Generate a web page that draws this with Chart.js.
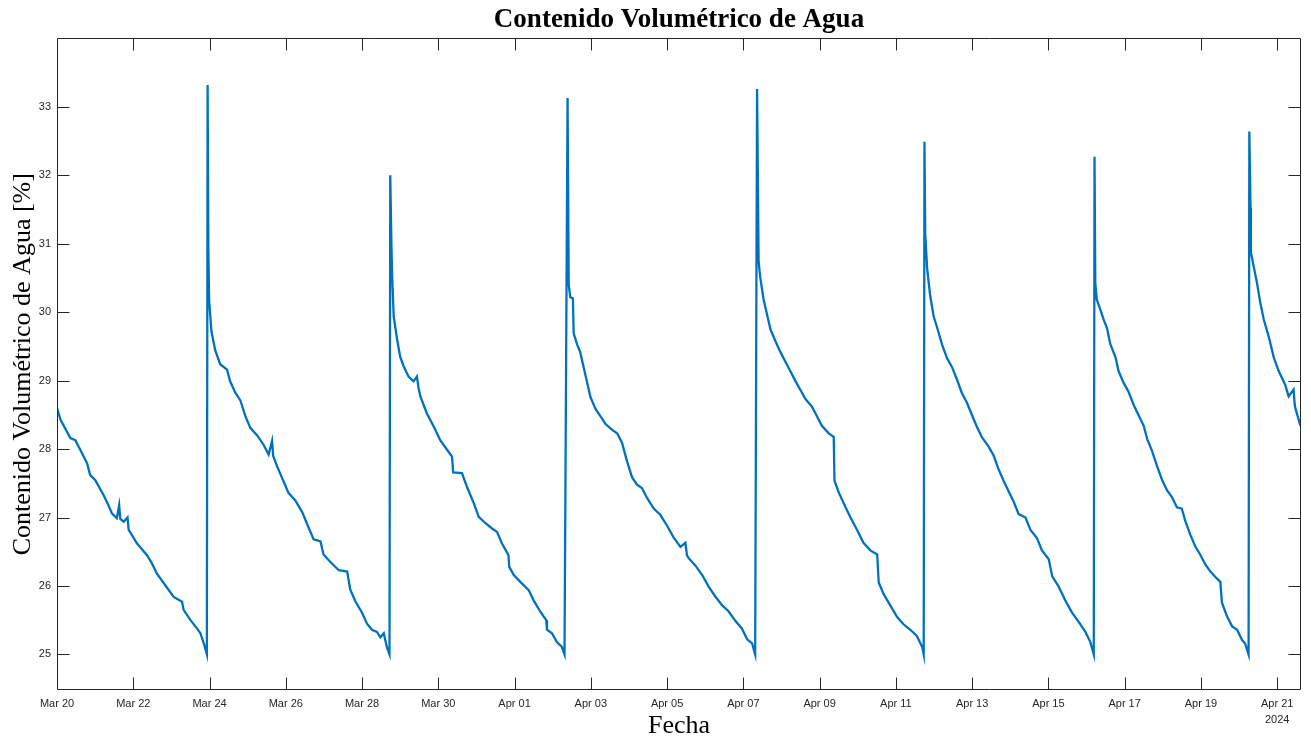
<!DOCTYPE html>
<html lang="es">
<head>
<meta charset="utf-8">
<title>Contenido Volumétrico de Agua</title>
<script src="https://cdn.jsdelivr.net/npm/chart.js@4.4.1/dist/chart.umd.min.js"></script>
<style>
  html, body { margin: 0; padding: 0; background: #fff; }
  canvas { display: block; }
</style>
</head>
<body>
<canvas id="grafico" width="1311" height="742"></canvas>
<script>
// Días transcurridos desde el 20 de marzo de 2024 (00:00), un renglón por ciclo de riego
const dias = [
  0.00, 0.09, 0.35, 0.48, 0.61, 0.79, 0.87, 1.00, 1.22, 1.35, 1.44, 1.57, 1.63, 1.66, 1.75, 1.85, 1.88, 2.10, 2.36, 2.49, 2.62, 2.84, 3.06, 3.28, 3.32, 3.50, 3.67, 3.76, 3.85, 3.93,
  3.95, 3.97, 3.99, 4.05, 4.15, 4.28, 4.46, 4.54, 4.68, 4.81, 4.94, 5.07, 5.25, 5.42, 5.55, 5.64, 5.67, 5.77, 5.94, 6.07, 6.25, 6.43, 6.60, 6.73, 6.91, 6.99, 7.17, 7.39, 7.61, 7.69, 7.82, 8.00, 8.13, 8.26, 8.39, 8.48, 8.57, 8.65, 8.72,
  8.74, 8.77, 8.79, 8.83, 8.92, 9.00, 9.09, 9.22, 9.35, 9.44, 9.48, 9.53, 9.70, 9.88, 10.05, 10.23, 10.36, 10.39, 10.62, 10.75, 10.93, 11.06, 11.23, 11.41, 11.54, 11.67, 11.84, 11.86, 11.98, 12.15, 12.37, 12.50, 12.68, 12.83, 12.85, 12.98, 13.11, 13.24, 13.31,
  13.39, 13.42, 13.46, 13.53, 13.55, 13.64, 13.72, 13.81, 13.90, 13.99, 14.12, 14.25, 14.38, 14.56, 14.69, 14.82, 14.95, 15.08, 15.21, 15.34, 15.47, 15.65, 15.82, 16.00, 16.17, 16.35, 16.48, 16.52, 16.56, 16.74, 16.92, 17.09, 17.26, 17.44, 17.61, 17.79, 17.96, 18.10, 18.23, 18.31,
  18.36, 18.40, 18.44, 18.53, 18.62, 18.71, 18.84, 18.97, 19.10, 19.23, 19.36, 19.49, 19.63, 19.80, 19.93, 20.06, 20.24, 20.37, 20.39, 20.50, 20.63, 20.80, 20.98, 21.15, 21.33, 21.51, 21.55, 21.68, 21.85, 22.03, 22.20, 22.38, 22.55, 22.69, 22.73,
  22.75, 22.77, 22.82, 22.90, 22.99, 23.08, 23.21, 23.34, 23.47, 23.60, 23.73, 23.87, 24.00, 24.13, 24.26, 24.43, 24.56, 24.69, 24.83, 24.96, 25.09, 25.22, 25.40, 25.53, 25.70, 25.83, 26.01, 26.10, 26.27, 26.44, 26.62, 26.79, 26.97, 27.10, 27.19,
  27.21, 27.23, 27.27, 27.36, 27.45, 27.54, 27.62, 27.76, 27.84, 27.97, 28.10, 28.24, 28.37, 28.50, 28.59, 28.72, 28.85, 28.98, 29.11, 29.24, 29.37, 29.50, 29.59, 29.72, 29.85, 29.98, 30.12, 30.25, 30.38, 30.51, 30.55, 30.68, 30.82, 30.95, 31.08, 31.16, 31.25,
  31.27, 31.30, 31.31, 31.38, 31.47, 31.56, 31.65, 31.78, 31.91, 32.04, 32.21, 32.30, 32.43, 32.46, 32.48, 32.61
];

// Contenido volumétrico de agua [%] en cada instante de "dias"
const contenido = [
  28.60, 28.43, 28.16, 28.13, 27.99, 27.79, 27.62, 27.55, 27.33, 27.18, 27.06, 26.99, 27.18, 26.98, 26.94, 27.00, 26.82, 26.62, 26.45, 26.33, 26.18, 26.01, 25.84, 25.77, 25.65, 25.50, 25.38, 25.31, 25.16, 25.00,
  33.32, 30.90, 30.17, 29.72, 29.44, 29.24, 29.16, 28.99, 28.82, 28.71, 28.48, 28.31, 28.20, 28.06, 27.92, 28.12, 27.90, 27.75, 27.53, 27.36, 27.25, 27.08, 26.85, 26.68, 26.65, 26.46, 26.35, 26.23, 26.21, 25.95, 25.78, 25.61, 25.45, 25.36, 25.33, 25.25, 25.31, 25.11, 25.00,
  32.00, 31.00, 30.52, 29.94, 29.60, 29.35, 29.21, 29.06, 28.99, 29.06, 28.90, 28.77, 28.52, 28.33, 28.13, 27.99, 27.89, 27.66, 27.65, 27.45, 27.21, 27.01, 26.92, 26.84, 26.79, 26.62, 26.45, 26.28, 26.16, 26.06, 25.94, 25.79, 25.62, 25.50, 25.36, 25.31, 25.18, 25.11, 25.00,
  33.13, 30.41, 30.22, 30.20, 29.69, 29.53, 29.42, 29.20, 28.98, 28.76, 28.59, 28.48, 28.37, 28.28, 28.23, 28.09, 27.82, 27.59, 27.48, 27.43, 27.29, 27.13, 27.04, 26.88, 26.71, 26.57, 26.63, 26.45, 26.41, 26.30, 26.16, 25.99, 25.85, 25.72, 25.63, 25.49, 25.38, 25.22, 25.16, 25.00,
  33.26, 30.75, 30.52, 30.19, 29.97, 29.75, 29.58, 29.42, 29.28, 29.14, 29.00, 28.87, 28.73, 28.62, 28.48, 28.34, 28.23, 28.18, 27.54, 27.37, 27.21, 27.01, 26.82, 26.63, 26.52, 26.46, 26.05, 25.88, 25.72, 25.55, 25.44, 25.36, 25.27, 25.11, 25.00,
  32.49, 31.15, 30.64, 30.24, 29.94, 29.78, 29.53, 29.33, 29.20, 29.02, 28.82, 28.67, 28.49, 28.32, 28.17, 28.04, 27.91, 27.71, 27.53, 27.38, 27.23, 27.05, 27.00, 26.82, 26.70, 26.52, 26.39, 26.14, 25.99, 25.79, 25.61, 25.48, 25.33, 25.18, 25.00,
  32.27, 30.43, 30.18, 30.04, 29.89, 29.76, 29.54, 29.34, 29.14, 28.97, 28.84, 28.64, 28.49, 28.34, 28.15, 27.97, 27.75, 27.55, 27.40, 27.30, 27.15, 27.13, 26.95, 26.75, 26.58, 26.46, 26.31, 26.21, 26.13, 26.06, 25.76, 25.56, 25.41, 25.36, 25.21, 25.16, 25.00,
  32.64, 31.53, 30.88, 30.68, 30.43, 30.13, 29.89, 29.64, 29.34, 29.14, 28.94, 28.77, 28.87, 28.65, 28.59, 28.34
];

// Marcas del eje de fechas (cada dos días) y sus etiquetas
const diasMarcas = [0, 2, 4, 6, 8, 10, 12, 14, 16, 18, 20, 22, 24, 26, 28, 30, 32];
const etiquetasFecha = [
  "Mar 20", "Mar 22", "Mar 24", "Mar 26", "Mar 28", "Mar 30", "Apr 01", "Apr 03",
  "Apr 05", "Apr 07", "Apr 09", "Apr 11", "Apr 13", "Apr 15", "Apr 17", "Apr 19", ["Apr 21", "2024"]
];
const marcasY = [25, 26, 27, 28, 29, 30, 31, 32, 33];

const colorEjes = "#262626";
const largoMarca = 12;

// Recuadro de ejes con marcas hacia adentro en los cuatro lados
const recuadro = {
  id: "recuadro",
  afterDatasetsDraw(chart) {
    const { ctx, chartArea: a, scales } = chart;
    const izq = Math.round(a.left) + 0.5;
    const der = Math.round(a.right) - 0.5;
    const arr = Math.round(a.top) + 0.5;
    const aba = Math.round(a.bottom) - 0.5;
    ctx.save();
    ctx.strokeStyle = colorEjes;
    ctx.lineWidth = 1;
    ctx.beginPath();
    ctx.rect(izq, arr, der - izq, aba - arr);
    scales.x.ticks.forEach((t) => {
      const px = Math.round(scales.x.getPixelForValue(t.value)) + 0.5;
      ctx.moveTo(px, aba);
      ctx.lineTo(px, aba - largoMarca);
      ctx.moveTo(px, arr);
      ctx.lineTo(px, arr + largoMarca);
    });
    scales.y.ticks.forEach((t) => {
      const py = Math.round(scales.y.getPixelForValue(t.value)) + 0.5;
      ctx.moveTo(izq, py);
      ctx.lineTo(izq + largoMarca, py);
      ctx.moveTo(der, py);
      ctx.lineTo(der - largoMarca, py);
    });
    ctx.stroke();
    ctx.restore();
  },
};

const puntos = dias.map((d, i) => ({ x: d, y: contenido[i] }));

new Chart(document.getElementById("grafico"), {
  type: "line",
  data: {
    datasets: [
      {
        data: puntos,
        borderColor: "#0072BD",
        borderWidth: 2.3,
        pointRadius: 0,
        tension: 0,
      },
    ],
  },
  options: {
    responsive: false,
    animation: false,
    devicePixelRatio: 1,
    layout: { padding: { top: 0, right: 10, bottom: 0, left: 0 } },
    plugins: {
      legend: { display: false },
      tooltip: { enabled: false },
      title: {
        display: true,
        fullSize: false,
        text: "Contenido Volumétrico de Agua",
        color: "#000",
        font: { family: "'Liberation Serif', 'Times New Roman', serif", size: 27, weight: "bold" },
        padding: { top: 4, bottom: 2 },
      },
    },
    scales: {
      x: {
        type: "linear",
        min: 0,
        max: 32.625,
        afterBuildTicks: (scale) => {
          scale.ticks = diasMarcas.map((v) => ({ value: v }));
        },
        afterFit: (scale) => {
          scale.height = 52;
        },
        grid: { display: false, drawTicks: false },
        border: { display: false },
        ticks: {
          autoSkip: false,
          maxRotation: 0,
          padding: 6,
          color: colorEjes,
          font: { family: "'Liberation Sans', Arial, sans-serif", size: 11, lineHeight: 1.45 },
          callback: (value, index) => etiquetasFecha[index],
        },
        title: {
          display: true,
          text: "Fecha",
          color: "#000",
          font: { family: "'Liberation Serif', 'Times New Roman', serif", size: 26 },
          padding: { top: 0, bottom: 0 },
        },
      },
      y: {
        min: 24.48,
        max: 34,
        afterBuildTicks: (scale) => {
          scale.ticks = marcasY.map((v) => ({ value: v }));
        },
        afterFit: (scale) => {
          scale.width = 57;
        },
        grid: { display: false, drawTicks: false },
        border: { display: false },
        ticks: {
          padding: 6,
          color: colorEjes,
          font: { family: "'Liberation Sans', Arial, sans-serif", size: 11 },
          callback: (value) => String(value),
        },
        title: {
          display: true,
          text: "Contenido Volumétrico de Agua [%]",
          color: "#000",
          font: { family: "'Liberation Serif', 'Times New Roman', serif", size: 26 },
          padding: { top: 8, bottom: 0 },
        },
      },
    },
  },
  plugins: [recuadro],
});
</script>
</body>
</html>
